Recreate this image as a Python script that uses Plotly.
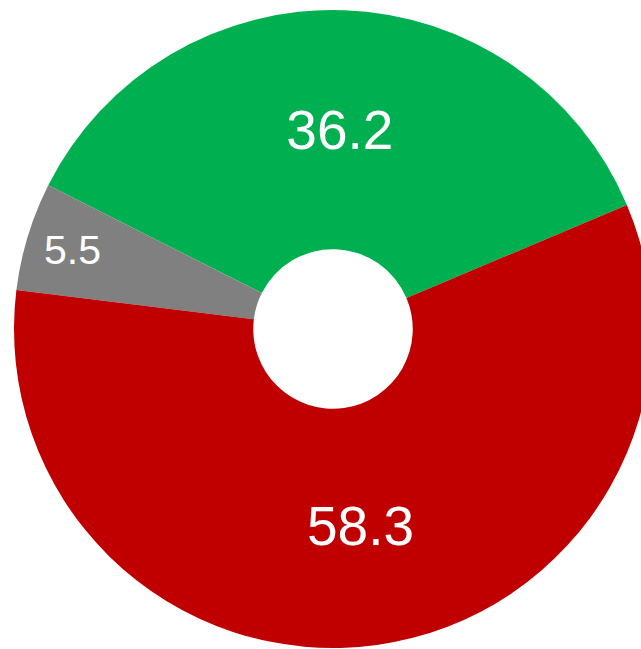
import plotly.graph_objects as go

labels = ["Green", "Gray", "Red"]
values = [36.2, 5.5, 58.3]
text_labels = ["36.2", "5.5", "58.3"]
colors = ["#00B050", "#808080", "#C00000"]

W, H = 660, 649
fig = go.Figure(go.Pie(
    labels=labels,
    values=values,
    text=text_labels,
    textinfo="text",
    textposition="inside",
    insidetextorientation="horizontal",
    hole=0.25,
    sort=False,
    direction="counterclockwise",
    rotation=-63.2,
    marker=dict(colors=colors, line=dict(width=0)),
    textfont=dict(family="Liberation Sans Narrow, Arial Narrow, Liberation Sans, Arial, sans-serif",
                  color="white", size=[55, 41, 55]),
    domain=dict(x=[14 / W, 652 / W], y=[1 / H, 639 / H]),
    showlegend=False,
    hoverinfo="skip",
))
fig.update_layout(
    width=W, height=H,
    margin=dict(l=0, r=0, t=0, b=0),
    paper_bgcolor="white",
    plot_bgcolor="white",
)
fig.write_html(
    "out.html",
    config={"displayModeBar": False},
    post_script=(
        "document.body.style.margin='0';"
        "document.body.style.overflow='hidden';"
        "document.documentElement.style.overflow='hidden';"
    ),
)
